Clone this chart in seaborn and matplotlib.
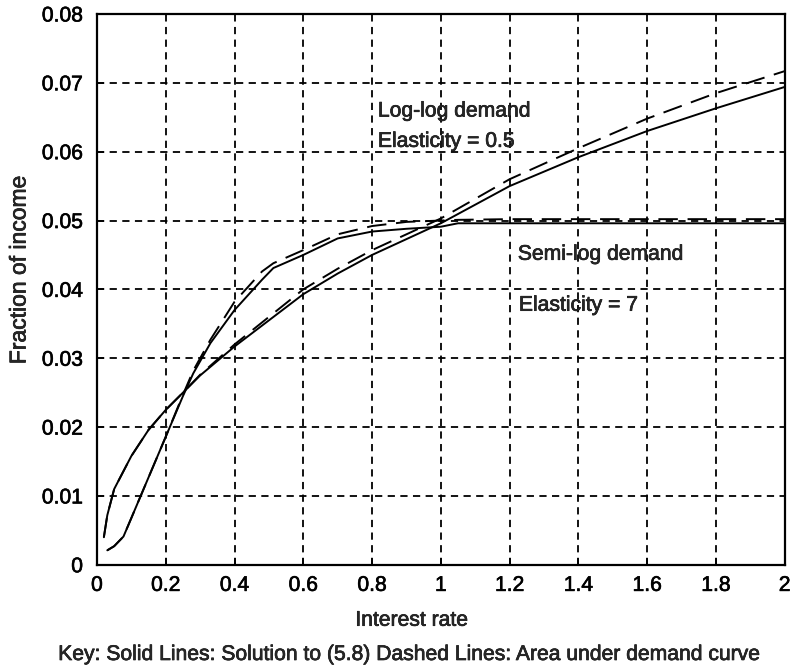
import numpy as np
import pandas as pd
import matplotlib
matplotlib.use("Agg")
import matplotlib.pyplot as plt
import matplotlib.patheffects as pe
import seaborn as sns

# Log-log demand (elasticity 0.5)
rate_loglog = [0.02, 0.03, 0.05, 0.10, 0.15, 0.20, 0.25, 0.30, 0.40, 0.50,
               0.60, 0.70, 0.80, 0.90, 1.00, 1.20, 1.40, 1.60, 1.80, 2.00]
loglog_solution = [0.0040, 0.0072, 0.0110, 0.0158, 0.0196, 0.0225, 0.0250, 0.0275,
                   0.0317, 0.0355, 0.0393, 0.0423, 0.0450, 0.0473, 0.0496, 0.0550,
                   0.0592, 0.0630, 0.0663, 0.0694]
loglog_area = [0.0040, 0.0072, 0.0110, 0.0158, 0.0196, 0.0225, 0.0250, 0.0276,
               0.0320, 0.0360, 0.0400, 0.0430, 0.0457, 0.0480, 0.0503, 0.0560,
               0.0605, 0.0648, 0.0685, 0.0717]

# Semi-log demand (elasticity 7)
rate_semilog = [0.03, 0.05, 0.077, 0.10, 0.15, 0.20, 0.25, 0.28, 0.33, 0.40,
                0.48, 0.513, 0.60, 0.70, 0.80, 0.90, 1.00, 1.05, 1.20, 1.40,
                1.60, 1.80, 2.00]
semilog_solution = [0.0021, 0.0027, 0.0041, 0.0068, 0.0127, 0.0186, 0.0245, 0.0278,
                    0.0322, 0.0370, 0.0414, 0.0431, 0.0450, 0.0474, 0.0484, 0.0488,
                    0.0491, 0.0496, 0.0496, 0.0496, 0.0496, 0.0496, 0.0496]
semilog_area = [0.0021, 0.0027, 0.0041, 0.0068, 0.0127, 0.0186, 0.0247, 0.0282,
                0.0327, 0.0382, 0.0426, 0.0438, 0.0457, 0.0480, 0.0492, 0.0498,
                0.0500, 0.0501, 0.0502, 0.0502, 0.0502, 0.0502, 0.0502]

x_ticks = [0, 0.2, 0.4, 0.6, 0.8, 1.0, 1.2, 1.4, 1.6, 1.8, 2.0]
x_tick_labels = ["0", "0.2", "0.4", "0.6", "0.8", "1", "1.2", "1.4", "1.6", "1.8", "2"]
y_ticks = [0, 0.01, 0.02, 0.03, 0.04, 0.05, 0.06, 0.07, 0.08]
y_tick_labels = ["0", "0.01", "0.02", "0.03", "0.04", "0.05", "0.06", "0.07", "0.08"]

sns.set_style("ticks")
plt.rcParams["font.family"] = ["Liberation Sans", "DejaVu Sans"]

FS = 15.2
# slightly heavier strokes for all lettering
heavy = [pe.withStroke(linewidth=0.45, foreground="black")]

fig = plt.figure(figsize=(7.95, 6.66), dpi=100)
ax = fig.add_axes([0.122, 0.152, 0.865, 0.827])

curves = [
    (rate_loglog, loglog_solution, "-"),
    (rate_loglog, loglog_area, (0, (10, 5))),
    (rate_semilog, semilog_solution, "-"),
    (rate_semilog, semilog_area, (0, (10, 5))),
]
for xs, ys, ls in curves:
    df = pd.DataFrame({"rate": xs, "share": ys})
    sns.lineplot(data=df, x="rate", y="share", ax=ax, color="black",
                 linewidth=1.4, linestyle=ls, zorder=3)

ax.set_xlim(0, 2)
ax.set_ylim(0, 0.08)
ax.set_xticks(x_ticks)
ax.set_xticklabels(x_tick_labels)
ax.set_yticks(y_ticks)
ax.set_yticklabels(y_tick_labels)
ax.tick_params(direction="in", length=5, width=1.2, labelsize=FS, colors="black")
ax.tick_params(axis="y", pad=10)
ax.tick_params(axis="x", pad=8)

ax.grid(True, color="black", linestyle=(0, (4, 3)), linewidth=1.3)
for s in ax.spines.values():
    s.set_visible(True)
    s.set_color("black")
    s.set_linewidth(1.6)

ax.set_xlabel("Interest rate", fontsize=FS)
ax.set_ylabel("Fraction of income", fontsize=16.5)
ax.xaxis.set_label_coords((412 - 97) / 688, -(626 - 565) / 551, transform=ax.transAxes)
ax.xaxis.label.set_verticalalignment("baseline")
ax.yaxis.set_label_coords(-(97 - 19) / 688, (565 - 270) / 551, transform=ax.transAxes)
ax.yaxis.label.set_verticalalignment("center")

ax.text(0.817, 0.0651, "Log-log demand", fontsize=FS, va="baseline", ha="left")
ax.text(0.817, 0.0607, "Elasticity = 0.5", fontsize=FS, va="baseline", ha="left")
ax.text(1.224, 0.0443, "Semi-log demand", fontsize=FS, va="baseline", ha="left")
ax.text(1.227, 0.0369, "Elasticity = 7", fontsize=FS, va="baseline", ha="left")

fig.text(409 / 795, 1 - 660 / 666,
         "Key: Solid Lines: Solution to (5.8) Dashed Lines: Area under demand curve",
         fontsize=FS, ha="center", va="baseline")

for t in fig.findobj(matplotlib.text.Text):
    if t.get_text():
        t.set_path_effects(heavy)
for t in ax.get_xticklabels() + ax.get_yticklabels():
    t.set_path_effects(heavy)

fig.savefig("out.png", dpi=100)
